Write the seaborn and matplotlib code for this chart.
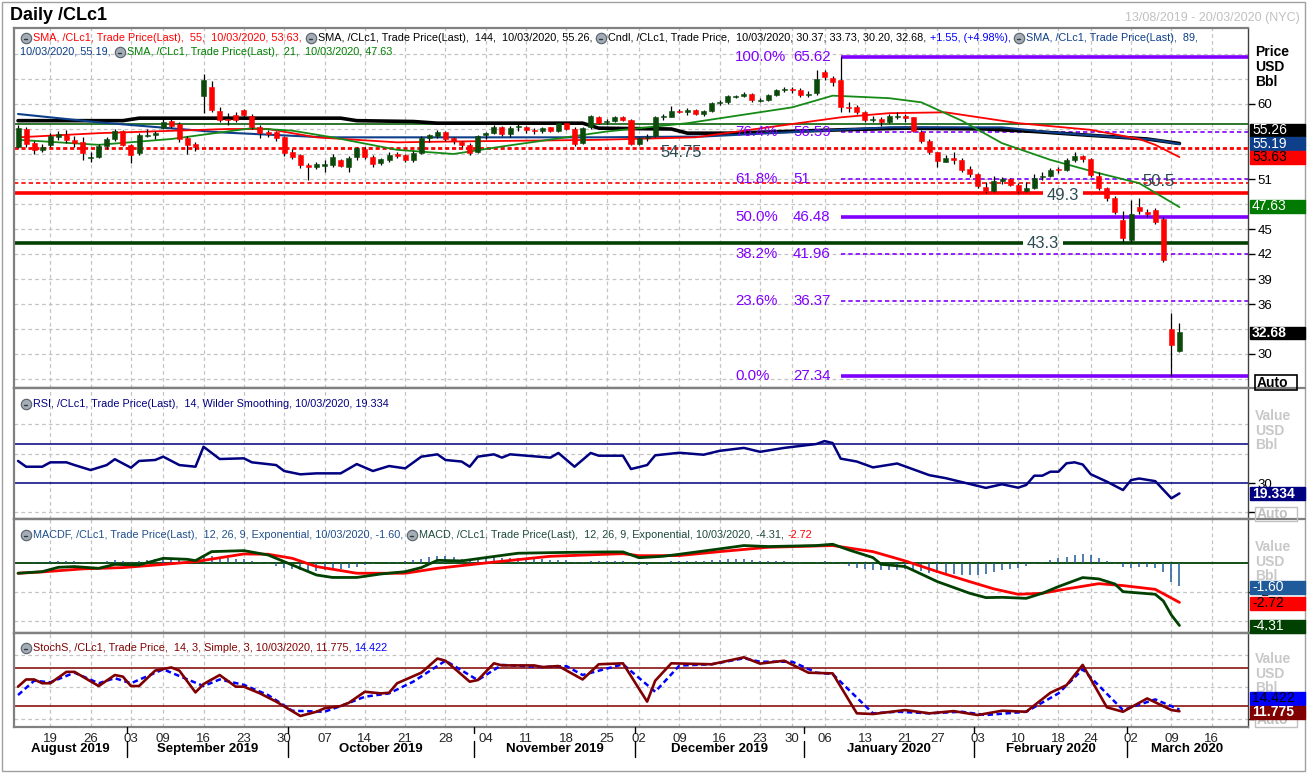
import numpy as np
import pandas as pd
import matplotlib
matplotlib.use("Agg")
import matplotlib.pyplot as plt
from matplotlib.lines import Line2D
from matplotlib.patches import Rectangle
import seaborn as sns

# ---- data (WTI /CLc1 daily) ----
holidays = ["2019-09-02", "2019-11-28", "2019-12-25", "2020-01-01", "2020-01-20", "2020-02-17"]
all_days = pd.bdate_range("2019-08-13", "2020-03-20")
dates = all_days[~all_days.isin(pd.to_datetime(holidays))]

opens = [54.90, 57.00, 55.30, 54.50, 55.10, 56.10, 56.30, 55.70, 55.40, 53.50,
         53.70, 55.00, 55.80, 56.80, 55.10, 54.10, 56.20, 56.30, 57.10, 58.00,
         57.60, 55.90, 55.20, 61.00, 62.00, 59.20, 58.20, 58.70, 59.30, 58.60,
         57.30, 56.60, 56.60, 56.00, 54.30, 53.90, 52.70, 52.40, 52.60, 52.70,
         53.30, 52.50, 53.60, 54.60, 53.70, 52.90, 53.30, 54.00, 53.90, 53.30,
         54.10, 55.90, 56.20, 56.60, 55.90, 55.50, 55.10, 54.20, 56.30, 56.50,
         57.30, 56.40, 57.20, 57.30, 56.90, 56.80, 57.20, 56.80, 57.70, 57.00,
         55.30, 57.20, 58.50, 57.80, 58.00, 58.40, 58.10, 55.20, 55.90, 56.20,
         58.40, 58.50, 59.20, 59.00, 59.30, 58.80, 59.20, 60.10, 60.20, 60.90,
         61.00, 61.20, 60.40, 60.50, 61.10, 61.70, 61.70, 61.70, 61.10, 61.30,
         63.80, 63.10, 62.90, 59.60, 59.60, 59.00, 58.10, 58.20, 57.80, 58.50,
         58.60, 58.40, 56.70, 55.60, 54.20, 53.10, 53.50, 53.30, 52.20, 51.60,
         50.10, 49.60, 50.80, 51.00, 50.30, 49.60, 49.90, 51.20, 51.40, 52.10,
         52.10, 53.30, 53.80, 53.40, 51.40, 49.90, 48.70, 46.10, 43.70, 47.70,
         47.00, 47.30, 46.20, 33.00, 30.37]
highs = [57.50, 57.20, 55.60, 55.20, 56.50, 56.80, 56.90, 56.20, 56.00, 54.20,
         55.20, 56.00, 57.00, 56.90, 55.20, 56.50, 57.00, 56.80, 58.30, 58.50,
         57.80, 56.20, 55.50, 63.60, 62.80, 59.60, 58.90, 59.00, 59.40, 58.80,
         57.50, 56.90, 56.80, 56.20, 54.60, 54.00, 52.90, 53.00, 53.30, 54.00,
         53.40, 53.80, 54.90, 54.80, 53.90, 53.50, 54.20, 54.30, 54.00, 54.40,
         56.20, 56.40, 56.90, 56.80, 56.10, 55.60, 55.30, 56.30, 56.70, 57.50,
         57.40, 57.40, 57.80, 57.40, 57.10, 57.30, 57.30, 57.90, 57.90, 57.20,
         57.30, 58.70, 58.60, 58.20, 58.60, 58.60, 58.20, 56.10, 56.40, 58.60,
         58.80, 59.80, 59.40, 59.50, 59.40, 59.30, 60.20, 60.50, 61.10, 61.10,
         61.40, 61.30, 60.70, 61.20, 61.80, 62.00, 62.00, 61.90, 61.60, 64.10,
         64.10, 63.40, 65.62, 60.30, 59.90, 59.20, 58.60, 58.50, 58.80, 59.00,
         58.80, 58.50, 56.90, 55.80, 54.30, 53.90, 54.20, 53.50, 52.60, 51.70,
         50.60, 51.40, 51.30, 51.10, 50.50, 50.60, 51.60, 51.80, 52.30, 52.50,
         53.50, 54.30, 53.90, 53.50, 51.80, 50.00, 49.00, 47.20, 48.50, 48.70,
         47.40, 47.50, 46.40, 34.90, 33.73]
lows = [54.70, 54.80, 54.00, 54.30, 54.90, 55.70, 55.30, 54.90, 53.30, 53.00,
        53.50, 54.60, 55.60, 55.00, 52.90, 53.90, 56.00, 55.80, 57.00, 57.10,
        55.50, 54.00, 54.40, 58.90, 59.00, 57.80, 57.50, 57.80, 58.30, 57.00,
        55.90, 56.10, 55.60, 53.80, 53.40, 52.30, 50.90, 52.20, 51.90, 52.40,
        52.40, 51.90, 53.30, 53.40, 52.50, 52.70, 53.10, 53.50, 53.00, 53.10,
        54.00, 55.40, 55.90, 55.60, 55.20, 54.80, 53.90, 54.10, 55.80, 56.40,
        56.20, 56.10, 56.80, 56.50, 56.40, 56.50, 56.60, 56.70, 56.90, 55.00,
        55.20, 57.00, 57.60, 57.60, 57.80, 58.00, 55.10, 55.10, 55.60, 56.10,
        58.10, 58.40, 58.90, 58.70, 58.70, 58.60, 59.10, 59.90, 60.00, 60.70,
        60.80, 60.30, 60.20, 60.40, 61.00, 61.50, 61.30, 60.90, 60.90, 61.10,
        62.90, 62.20, 59.00, 59.10, 58.80, 57.90, 57.90, 57.40, 57.70, 58.20,
        57.90, 56.60, 55.30, 54.00, 52.50, 53.00, 52.80, 51.90, 51.30, 49.90,
        49.30, 49.50, 50.40, 50.20, 49.30, 49.40, 49.80, 50.90, 51.30, 51.70,
        52.00, 53.10, 53.00, 51.20, 49.70, 48.40, 46.80, 43.50, 43.40, 46.80,
        46.40, 45.60, 41.00, 27.34, 30.20]
closes = [57.10, 55.23, 54.47, 54.87, 56.21, 56.34, 55.68, 55.35, 54.17, 53.64,
          54.93, 55.78, 56.71, 55.10, 53.94, 56.26, 56.30, 56.52, 57.85, 57.40,
          55.75, 55.09, 54.85, 62.90, 59.34, 58.11, 58.13, 58.09, 58.64, 57.29,
          56.49, 56.41, 55.91, 54.07, 53.62, 52.64, 52.45, 52.81, 52.75, 53.63,
          52.59, 53.55, 54.70, 53.59, 52.81, 53.36, 53.93, 53.78, 53.31, 54.16,
          55.97, 56.23, 56.66, 55.81, 55.54, 55.06, 54.18, 56.20, 56.54, 57.23,
          56.35, 57.15, 57.24, 56.86, 56.80, 57.12, 56.77, 57.72, 57.05, 55.21,
          57.11, 58.58, 57.77, 58.01, 58.41, 58.11, 55.17, 55.96, 56.10, 58.43,
          58.50, 59.20, 59.02, 59.24, 58.76, 59.18, 60.07, 60.21, 60.94, 60.93,
          61.22, 60.44, 60.52, 61.11, 61.68, 61.72, 61.68, 61.06, 61.18, 63.05,
          63.27, 62.70, 59.61, 59.56, 59.04, 58.08, 58.23, 57.81, 58.52, 58.54,
          58.34, 56.74, 55.59, 54.19, 53.14, 53.48, 53.33, 52.14, 51.56, 50.11,
          49.61, 50.75, 50.95, 50.32, 49.57, 49.94, 51.17, 51.42, 52.05, 52.05,
          53.29, 53.78, 53.38, 51.43, 49.90, 48.73, 47.09, 43.90, 46.75, 47.18,
          46.78, 45.90, 41.28, 31.13, 32.68]

# moving averages (day index, value)
sma21_x = [0, 10, 19, 29, 34, 39, 47, 54, 60, 73, 83, 96, 101, 108, 112, 117, 122, 128, 134, 139, 144]
sma21_y = [55.7, 55.1, 55.8, 57.1, 56.8, 56.0, 54.5, 54.0, 54.9, 56.7, 57.7, 59.6, 61.0, 60.7, 60.2,
           58.0, 55.3, 53.3, 51.7, 50.5, 47.63]
sma55_x = [0, 10, 26, 31, 37, 47, 54, 72, 84, 102, 108, 115, 124, 133, 139, 141, 144]
sma55_y = [56.0, 56.5, 57.0, 57.0, 56.0, 55.4, 55.5, 55.7, 56.0, 58.4, 58.9, 59.0, 57.7, 56.9, 55.8, 55.1, 53.63]
sma89_x = [0, 10, 25, 38, 54, 72, 85, 108, 122, 128, 141, 144]
sma89_y = [58.8, 57.8, 56.6, 56.0, 56.0, 56.0, 56.1, 57.2, 57.2, 56.6, 55.7, 55.19]
sma144_x = [0, 13, 15, 40, 42, 49, 52, 70, 72, 81, 83, 88, 95, 102, 110, 120, 126, 132, 140, 144]
sma144_y = [58.0, 58.0, 58.3, 58.3, 58.0, 57.9, 57.7, 57.7, 57.1, 57.0, 56.5, 56.5, 56.7, 56.9, 57.1,
            57.0, 56.7, 56.3, 55.8, 55.26]

fib_pct = ["100.0%", "76.4%", "61.8%", "50.0%", "38.2%", "23.6%", "0.0%"]
fib_val = [65.62, 56.59, 51.0, 46.48, 41.96, 36.37, 27.34]
fib_txt = ["65.62", "56.59", "51", "46.48", "41.96", "36.37", "27.34"]
fib_solid = [True, False, False, True, False, False, True]

rsi_x = [0, 1, 3, 4, 6, 7, 9, 11, 12, 14, 15, 17, 18, 20, 22, 23, 25, 28, 29, 32, 33, 35, 37, 40, 42,
         44, 46, 48, 50, 52, 53, 55, 56, 57, 59, 60, 61, 66, 67, 69, 71, 72, 75, 76, 78, 79, 82, 85,
         87, 90, 92, 95, 99, 100, 101, 102, 104, 106, 109, 111, 113, 115, 117, 119, 120, 122, 124,
         125, 126, 127, 128, 129, 130, 131, 132, 133, 135, 137, 138, 139, 141, 143, 144]
rsi_y = [52.6, 46.7, 46.7, 51.2, 51.2, 48.4, 43.3, 48.4, 54.4, 45.7, 52.6, 53.6, 57.0, 48.4, 46.7, 67.2,
         54.6, 55.3, 51.2, 48.4, 42.3, 38.9, 39.9, 39.9, 49.4, 42.3, 47.4, 45.0, 57.0, 59.4, 53.6, 52.0,
         46.7, 57.0, 59.4, 56.0, 59.4, 56.0, 60.8, 46.7, 60.8, 58.0, 58.0, 44.3, 48.4, 58.4, 61.0, 59.0,
         63.0, 66.0, 62.0, 66.0, 70.0, 73.0, 71.0, 55.0, 52.0, 46.0, 50.0, 44.0, 38.0, 35.0, 31.0, 27.0,
         25.0, 28.7, 25.2, 28.0, 37.5, 37.5, 41.6, 41.6, 50.2, 51.2, 49.0, 39.0, 31.4, 22.8, 33.0, 34.6,
         31.9, 14.3, 19.334]

macd_x = [0, 3, 5, 7, 10, 12, 15, 18, 21, 22, 24, 28, 31, 34, 37, 39, 42, 45, 48, 50, 52, 55, 58, 62,
          67, 73, 75, 77, 80, 82, 87, 90, 93, 99, 101, 103, 106, 107, 110, 114, 118, 120, 122, 125,
          127, 129, 132, 134, 136, 137, 141, 142, 143, 144]
macd_y = [-0.71, -0.60, -0.30, -0.25, -0.37, -0.10, -0.14, 0.32, 0.25, 0.16, 0.78, 0.85, 0.55, -0.14,
          -0.83, -1.00, -1.00, -0.76, -0.60, -0.32, 0.18, 0.14, 0.37, 0.67, 0.72, 0.76, 0.76, 0.36,
          0.46, 0.60, 0.97, 1.20, 1.13, 1.20, 1.29, 0.90, 0.37, -0.09, -0.25, -1.29, -2.09, -2.39,
          -2.37, -2.44, -2.09, -1.63, -1.01, -1.10, -1.45, -1.98, -2.16, -2.62, -3.59, -4.31]
sig_x = [0, 3, 8, 13, 18, 22, 28, 31, 34, 37, 42, 48, 52, 58, 66, 75, 77, 82, 87, 93, 101, 106, 110,
         114, 118, 121, 124, 127, 130, 134, 137, 141, 144]
sig_y = [-0.71, -0.62, -0.41, -0.32, -0.10, 0.09, 0.62, 0.60, 0.32, -0.25, -0.71, -0.71, -0.37, 0.00,
         0.46, 0.64, 0.50, 0.51, 0.78, 1.08, 1.20, 0.78, 0.14, -0.60, -1.29, -1.79, -2.16, -2.09,
         -1.79, -1.43, -1.56, -1.82, -2.72]
macd_hist = [0.00, 0.03, 0.06, 0.08, 0.12, 0.15, 0.14, 0.10, 0.05, 0.00,
             0.02, 0.10, 0.18, 0.15, 0.08, 0.12, 0.20, 0.28, 0.32, 0.28,
             0.20, 0.12, 0.08, 0.40, 0.48, 0.42, 0.36, 0.30, 0.24, 0.14,
             0.04, -0.06, -0.20, -0.35, -0.45, -0.52, -0.56, -0.56, -0.52, -0.46,
             -0.40, -0.34, -0.26, -0.16, -0.08, -0.02, 0.04, 0.08, 0.12, 0.18,
             0.30, 0.40, 0.48, 0.45, 0.38, 0.30, 0.22, 0.30, 0.34, 0.38,
             0.36, 0.36, 0.34, 0.30, 0.26, 0.24, 0.22, 0.22, 0.18, 0.06,
             0.08, 0.16, 0.16, 0.14, 0.13, 0.10, -0.08, -0.14, -0.12, 0.00,
             0.06, 0.12, 0.12, 0.14, 0.12, 0.14, 0.18, 0.20, 0.24, 0.24,
             0.24, 0.18, 0.14, 0.12, 0.12, 0.10, 0.08, 0.04, 0.02, 0.08,
             0.10, 0.08, -0.10, -0.22, -0.32, -0.42, -0.48, -0.52, -0.50, -0.46,
             -0.44, -0.50, -0.58, -0.66, -0.72, -0.74, -0.78, -0.80, -0.80, -0.80,
             -0.76, -0.62, -0.48, -0.40, -0.32, -0.24, -0.08, 0.06, 0.18, 0.32,
             0.44, 0.52, 0.60, 0.52, 0.36, 0.12, -0.10, -0.28, -0.36, -0.30,
             -0.30, -0.34, -0.60, -1.30, -1.60]

stk_x = [0, 1, 2, 3, 4, 6, 7, 10, 12, 13, 14, 15, 17, 19, 20, 22, 23, 25, 27, 28, 30, 32, 35, 37, 38,
         40, 41, 43, 45, 46, 47, 50, 52, 53, 56, 57, 59, 60, 64, 65, 67, 70, 72, 75, 78, 79, 81, 86,
         90, 92, 95, 98, 101, 104, 106, 110, 113, 116, 119, 122, 125, 128, 130, 132, 135, 137, 140,
         143, 144]
stk_y = [50.6, 62.0, 62.0, 56.0, 56.0, 74.0, 74.0, 51.6, 69.0, 66.5, 51.6, 51.6, 76.0, 81.0, 76.0,
         41.6, 54.8, 69.0, 50.6, 50.6, 40.0, 27.0, 4.3, 11.0, 16.4, 20.0, 25.0, 42.6, 40.0, 41.0, 56.0,
         72.7, 95.0, 91.6, 58.5, 61.0, 87.5, 84.2, 84.2, 81.6, 83.2, 62.0, 86.0, 87.5, 27.0, 60.0,
         87.5, 86.0, 97.0, 87.0, 91.6, 72.7, 71.6, 8.5, 7.4, 13.7, 8.5, 12.0, 5.8, 12.6, 11.0, 41.0,
         53.0, 85.0, 18.0, 11.0, 32.0, 13.7, 11.775]
std_x = [0, 2, 4, 7, 10, 12, 14, 18, 23, 25, 28, 31, 34, 38, 40, 43, 46, 49, 53, 57, 60, 65, 68, 70,
         75, 79, 82, 86, 90, 92, 96, 99, 101, 106, 109, 113, 117, 120, 125, 129, 132, 137, 141, 144]
std_y = [37.4, 60.0, 57.5, 72.7, 56.0, 64.0, 56.0, 78.0, 51.6, 62.0, 53.5, 37.4, 12.6, 11.0, 20.0,
         34.7, 40.0, 58.5, 91.6, 61.0, 85.0, 81.6, 83.0, 69.0, 86.0, 42.6, 84.0, 86.0, 95.5, 90.0,
         90.0, 72.7, 70.5, 8.5, 11.0, 8.5, 11.0, 5.8, 11.0, 40.0, 78.0, 13.7, 30.5, 14.422]

month_names = ["August 2019", "September 2019", "October 2019", "November 2019",
               "December 2019", "January 2020", "February 2020", "March 2020"]

# ---- colours ----
GREEN_C = "#0b4a0b"
RED_C = "#ff0000"
PURPLE = "#8000ff"
NOTE_C = "#2c4a52"
GRID_C = "#c4c4c4"

W, H = 1307, 775
X0, X1 = 14, 1248


def fx(x):
    return x / W


def fy(y):
    return 1 - y / H


def frame(y0, y1):
    return [fx(X0), fy(y1), (X1 - X0) / W, (y1 - y0) / H]


sns.set_theme(style="white")
plt.rcParams["font.family"] = ["Liberation Sans", "DejaVu Sans"]
plt.rcParams["axes.linewidth"] = 1.0

fig = plt.figure(figsize=(W / 100, H / 100), dpi=100)
fig.patch.set_facecolor("white")

ax_p = fig.add_axes(frame(28, 388))
ax_r = fig.add_axes(frame(388, 519), sharex=ax_p)
ax_m = fig.add_axes(frame(519, 633), sharex=ax_p)
ax_s = fig.add_axes(frame(633, 727), sharex=ax_p)
panels = [ax_p, ax_r, ax_m, ax_s]

n_all = len(dates)
idx = np.arange(len(closes))
day = pd.Series(dates)
week_start = day.groupby(day.dt.to_period("W")).head(1).index.to_numpy()
week_start = week_start[week_start > 0]
month_groups = day.groupby(day.dt.to_period("M")).groups
px_per_day = (X1 - X0) / n_all


def px_to_idx(x):
    return (x - X0) / px_per_day - 0.5


for ax in panels:
    ax.set_xlim(-0.5, n_all - 0.5)
    ax.set_facecolor("white")
    for x in week_start:
        ax.axvline(x, color=GRID_C, lw=0.9, ls=(0, (3, 2.5)), zorder=0)
    for s in ["left", "top", "bottom"]:
        ax.spines[s].set_color("#808080")
        ax.spines[s].set_linewidth(1.6)
    ax.spines["right"].set_color("#404040")
    ax.spines["right"].set_linewidth(1.0)
    ax.yaxis.tick_right()
    ax.tick_params(axis="y", direction="out", length=5, width=1, colors="black",
                   labelsize=9.5, pad=2)
    ax.tick_params(axis="x", length=0, labelbottom=False)

# ---- price panel ----
ax_p.set_ylim(25.92, 69.12)
for v in np.arange(27, 67, 3):
    ax_p.axhline(v, color=GRID_C, lw=0.9, ls=(0, (3, 2.5)), zorder=0)
ax_p.set_yticks([30, 36, 39, 42, 45, 51, 60])
ax_p.set_yticklabels(["30", "36", "39", "42", "45", "51", "60"])

xmax = n_all - 0.5
ax_p.axhline(57.6, color="#1e6b1e", lw=1.3, zorder=1)
ax_p.axhline(54.75, color=RED_C, lw=2.0, ls=(0, (1.5, 1.0)), zorder=1)
ax_p.axhline(50.5, color=RED_C, lw=1.2, ls=(0, (2.6, 1.8)), zorder=1)
ax_p.hlines(49.3, -0.5, 127.1, color=RED_C, lw=2.6, zorder=1)
ax_p.hlines(49.3, 132.1, xmax, color=RED_C, lw=2.6, zorder=1)
ax_p.hlines(43.3, -0.5, 124.6, color="#004000", lw=2.6, zorder=1)
ax_p.hlines(43.3, 129.6, xmax, color="#004000", lw=2.6, zorder=1)

fib_x0 = 102
pct_x = px_to_idx(735)
val_x = px_to_idx(793)
for pct, val, txt, solid in zip(fib_pct, fib_val, fib_txt, fib_solid):
    if solid:
        ax_p.hlines(val, fib_x0, xmax, color=PURPLE, lw=2.6, zorder=1)
    else:
        ax_p.hlines(val, fib_x0, xmax, color=PURPLE, lw=1.2, linestyles=[(0, (2.6, 1.8))], zorder=1)
    ax_p.text(pct_x, val, pct, color=PURPLE, fontsize=10.8, ha="left", va="center", zorder=6)
    ax_p.text(val_x, val, txt, color=PURPLE, fontsize=10.8, ha="left", va="center", zorder=6)

ax_p.text(82.2, 54.2, "54.75", color=NOTE_C, fontsize=12, ha="center", va="center", zorder=6)
ax_p.text(129.6, 49.0, "49.3", color=NOTE_C, fontsize=12, ha="center", va="center", zorder=6)
ax_p.text(127.1, 43.3, "43.3", color=NOTE_C, fontsize=12, ha="center", va="center", zorder=6)
ax_p.text(141.4, 50.7, "50.5", color=NOTE_C, fontsize=12, ha="center", va="center", zorder=6)

sns.lineplot(x=sma144_x, y=sma144_y, ax=ax_p, color="black", lw=2.6, estimator=None, sort=False, zorder=2)
sns.lineplot(x=sma89_x, y=sma89_y, ax=ax_p, color="#0d3f8a", lw=1.5, estimator=None, sort=False, zorder=2)
sns.lineplot(x=sma55_x, y=sma55_y, ax=ax_p, color="#ff0000", lw=1.3, estimator=None, sort=False, zorder=2)
sns.lineplot(x=sma21_x, y=sma21_y, ax=ax_p, color="#168a16", lw=1.3, estimator=None, sort=False, zorder=2)

o = np.array(opens)
c = np.array(closes)
up = c >= o
body_lo = np.minimum(o, c)
body_h = np.maximum(np.abs(c - o), 0.12)
ax_p.vlines(idx, lows, highs, color="black", lw=0.9, zorder=3)
ax_p.bar(idx[up], body_h[up], bottom=body_lo[up], width=0.62, color=GREEN_C,
         edgecolor=GREEN_C, lw=0.4, zorder=4)
ax_p.bar(idx[~up], body_h[~up], bottom=body_lo[~up], width=0.62, color=RED_C,
         edgecolor=RED_C, lw=0.4, zorder=4)

# ---- RSI ----
ax_r.set_ylim(-6.9, 127.4)
for v in [0, 60, 90]:
    ax_r.axhline(v, color=GRID_C, lw=0.9, ls=(0, (3, 2.5)), zorder=0)
ax_r.axhline(70, color="#000080", lw=1.1, zorder=1)
ax_r.axhline(30, color="#000080", lw=1.1, zorder=1)
sns.lineplot(x=rsi_x, y=rsi_y, ax=ax_r, color="#000080", lw=1.8, estimator=None, sort=False, zorder=3)
ax_r.set_yticks([0, 30])
ax_r.set_yticklabels(["", "30"])

# ---- MACD ----
ax_m.set_ylim(-4.83, 3.03)
for v in [-2, -4]:
    ax_m.axhline(v, color=GRID_C, lw=0.9, ls=(0, (3, 2.5)), zorder=0)
ax_m.axhline(0, color="#004000", lw=1.3, zorder=1)
ax_m.vlines(idx, 0, macd_hist, color="#1f5a9a", lw=1.1, zorder=2)
sns.lineplot(x=sig_x, y=sig_y, ax=ax_m, color="#ff0000", lw=2.0, estimator=None, sort=False, zorder=3)
sns.lineplot(x=macd_x, y=macd_y, ax=ax_m, color="#004000", lw=2.0, estimator=None, sort=False, zorder=4)
ax_m.set_yticks([-2])
ax_m.set_yticklabels(["-2"])

# ---- Stochastic ----
ax_s.set_ylim(-13.1, 135.4)
for v in [0, 50, 100]:
    ax_s.axhline(v, color=GRID_C, lw=0.9, ls=(0, (3, 2.5)), zorder=0)
ax_s.axhline(80, color="#800000", lw=1.1, zorder=1)
ax_s.axhline(20, color="#800000", lw=1.1, zorder=1)
sns.lineplot(x=std_x, y=std_y, ax=ax_s, color="#0000ff", lw=1.8, estimator=None, sort=False,
             linestyle=(0, (2.2, 1.4)), zorder=3)
sns.lineplot(x=stk_x, y=stk_y, ax=ax_s, color="#800000", lw=1.9, estimator=None, sort=False, zorder=4)
ax_s.set_yticks([0])
ax_s.set_yticklabels([""])

ax_s.set_xticks(week_start)
ax_s.set_xticklabels([d.strftime("%d") for d in dates[week_start]])
ax_s.tick_params(axis="x", length=0, labelbottom=True, labelsize=9.5, pad=4)

for ax in panels:
    ax.set_xlabel("")
    ax.set_ylabel("")

# month labels and separators under the date row
for name, (per, members) in zip(month_names, month_groups.items()):
    first, last = members.min(), members.max()
    xc = (first + last) / 2
    ax_s.text(xc, -0.235, name, transform=ax_s.get_xaxis_transform(), ha="center", va="center",
              fontsize=9.5, fontweight="bold", color="black")
    if first > 0:
        xs = ax_s.transData.transform((first - 0.5, 0))[0]
        fig.add_artist(Line2D([xs / W, xs / W], [fy(727), fy(733)], color="black", lw=1))
        fig.add_artist(Line2D([xs / W, xs / W], [fy(741), fy(757)], color="black", lw=1))

# ---- frames, separators and right-hand labels ----
for y in [388, 519, 633]:
    fig.add_artist(Line2D([fx(X0), fx(1305)], [fy(y), fy(y)], color="#808080", lw=1.6))
fig.add_artist(Rectangle((fx(2), fy(771)), fx(1303), 769 / H, transform=fig.transFigure,
                         fill=False, ec="#a0a0a0", lw=1.0))


def value_box(y, text, fc, tc, ec=None, bold=False):
    fig.add_artist(Rectangle((fx(1250), fy(y + 6.5)), 55 / W, 13 / H, transform=fig.transFigure,
                             fc=fc, ec=ec if ec else fc, lw=1, zorder=10))
    fig.text(fx(1252), fy(y), text, color=tc, fontsize=10, va="center", ha="left", zorder=11,
             fontweight="bold" if bold else "normal")


value_box(130, "55.26", "black", "white")
value_box(143.5, "55.19", "#0d3f8a", "white")
value_box(157, "53.63", "#ff0000", "black")
value_box(206, "47.63", "#007a00", "white")
value_box(333, "32.68", "black", "white", bold=True)
value_box(494, "19.334", "#000080", "white", bold=True)
value_box(587, "-1.60", "#1f5a9a", "white")
value_box(603, "-2.72", "#ff0000", "black")
value_box(626, "-4.31", "#004000", "white")
value_box(698, "14.422", "#0000ff", "black")
value_box(712, "11.775", "#800000", "white", bold=True)

fig.add_artist(Rectangle((fx(1255), fy(390)), 42 / W, 15 / H, transform=fig.transFigure,
                         fill=False, ec="black", lw=1.2, zorder=10))
fig.text(fx(1257), fy(383), "Auto", fontsize=10, fontweight="bold", va="center", color="black")
for yy in [514, 720]:
    fig.add_artist(Rectangle((fx(1255), fy(yy + 7)), 42 / W, 14 / H, transform=fig.transFigure,
                             fill=False, ec="#c0c0c0", lw=1.0, zorder=9))
    fig.text(fx(1257), fy(yy), "Auto", fontsize=10, fontweight="bold", va="center", color="#c0c0c0",
             zorder=9)

for i, word in enumerate(["Price", "USD", "Bbl"]):
    fig.text(fx(1255), fy(52 + 15 * i), word, fontsize=10, fontweight="bold", va="center", color="black")
for top in [416, 547, 659]:
    for i, word in enumerate(["Value", "USD", "Bbl"]):
        fig.text(fx(1255), fy(top + 14.5 * i), word, fontsize=10, fontweight="bold", va="center",
                 color="#c8c8c8", zorder=8)

fig.text(fx(10), fy(15), "Daily /CLc1", fontsize=13, fontweight="bold", va="center", color="black")
fig.text(fx(1300), fy(18), "13/08/2019 - 20/03/2020 (NYC)", fontsize=9, va="center", ha="right",
         color="#c0c0c0")

# ---- legend rows with the little indicator icons ----
renderer = fig.canvas.get_renderer()
probe = fig.text(0, 0, "SMA, /CLc1, Trade Price(Last),  55,  10/03/2020, 53.63,", fontsize=10)
LEG_SIZE = 10 * 268 / probe.get_window_extent(renderer).width
probe.remove()


def legend_row(x, y, parts):
    for txt, col, icon in parts:
        if icon:
            fig.add_artist(Line2D([fx(x + 6)], [fy(y)], marker="o", ms=7.5, mfc="#a4adb6",
                                  mec="#56606a", mew=0.8, transform=fig.transFigure))
            fig.add_artist(Line2D([fx(x + 4), fx(x + 7)], [fy(y + 1), fy(y + 1)], color="#303840",
                                  lw=1.0, transform=fig.transFigure))
            x += 13
        t = fig.text(fx(x), fy(y), txt, color=col, fontsize=LEG_SIZE, va="center", ha="left")
        x += t.get_window_extent(renderer).width + 3


legend_row(20, 38, [
    ("SMA, /CLc1, Trade Price(Last),  55,  10/03/2020, 53.63,", "#ff0000", True),
    ("SMA, /CLc1, Trade Price(Last),  144,  10/03/2020, 55.26,", "black", True),
    ("Cndl, /CLc1, Trade Price,  10/03/2020, 30.37, 33.73, 30.20, 32.68,", "black", True),
    ("+1.55, (+4.98%),", "#0000ff", False),
    ("SMA, /CLc1, Trade Price(Last),  89,", "#0d3f8a", True),
])
legend_row(20, 52, [
    ("10/03/2020, 55.19,", "#0d3f8a", False),
    ("SMA, /CLc1, Trade Price(Last),  21,  10/03/2020, 47.63", "#008000", True),
])
legend_row(20, 404, [
    ("RSI, /CLc1, Trade Price(Last),  14, Wilder Smoothing, 10/03/2020, 19.334", "#000080", True),
])
legend_row(20, 535, [
    ("MACDF, /CLc1, Trade Price(Last),  12, 26, 9, Exponential, 10/03/2020, -1.60,", "#1f4f8a", True),
    ("MACD, /CLc1, Trade Price(Last),  12, 26, 9, Exponential, 10/03/2020, -4.31,", "#1c4a3c", True),
    ("-2.72", "#ff0000", False),
])
legend_row(20, 648, [
    ("StochS, /CLc1, Trade Price,  14, 3, Simple, 3, 10/03/2020, 11.775,", "#800000", True),
    ("14.422", "#0000ff", False),
])

fig.savefig("out.png", dpi=100, facecolor="white")
